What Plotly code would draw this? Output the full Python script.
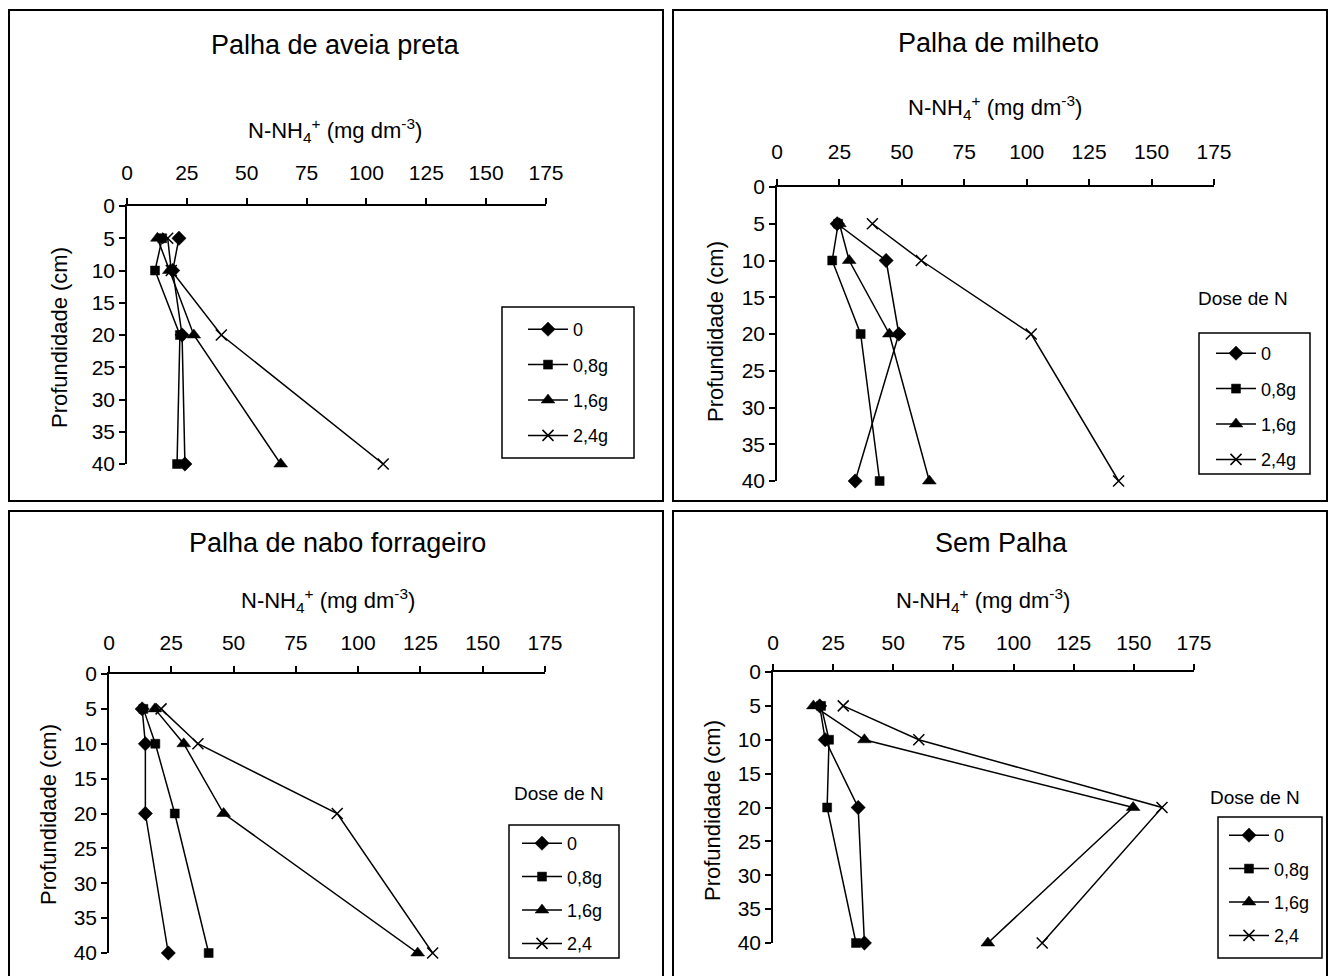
import plotly.graph_objects as go

depth = [5, 10, 20, 40]
dose_names_a = ["0", "0,8g", "1,6g", "2,4g"]
dose_names_b = ["0", "0,8g", "1,6g", "2,4"]
x_ticks = [0, 25, 50, 75, 100, 125, 150, 175]
y_ticks = [0, 5, 10, 15, 20, 25, 30, 35, 40]

titles = ["Palha de aveia preta", "Palha de milheto", "Palha de nabo forrageiro", "Sem Palha"]

aveia_0 = [21.7, 19.1, 23.0, 24.2]
aveia_08 = [14.7, 11.7, 22.1, 20.9]
aveia_16 = [12.7, 17.7, 27.9, 64.2]
aveia_24 = [17.0, 18.5, 39.4, 107.0]

milheto_0 = [24.1, 43.7, 48.8, 31.3]
milheto_08 = [24.5, 22.1, 33.5, 41.1]
milheto_16 = [25.0, 28.9, 45.0, 61.0]
milheto_24 = [38.2, 57.8, 101.8, 136.8]

nabo_0 = [13.3, 14.6, 14.6, 23.8]
nabo_08 = [13.8, 18.6, 26.4, 40.0]
nabo_16 = [18.4, 30.0, 46.0, 123.9]
nabo_24 = [20.9, 35.7, 91.6, 129.9]

sem_0 = [19.4, 21.7, 35.4, 38.0]
sem_08 = [20.0, 23.3, 22.5, 34.5]
sem_16 = [16.8, 38.0, 149.7, 89.3]
sem_24 = [29.2, 60.6, 161.7, 111.9]

panels = [
    [aveia_0, aveia_08, aveia_16, aveia_24],
    [milheto_0, milheto_08, milheto_16, milheto_24],
    [nabo_0, nabo_08, nabo_16, nabo_24],
    [sem_0, sem_08, sem_16, sem_24],
]
legend_names = [dose_names_a, dose_names_a, dose_names_b, dose_names_b]

W, H = 1331, 976
FONT = "Liberation Sans, Arial, sans-serif"

def px(x):
    return x / W

def py(y):
    return 1 - y / H

# layout geometry (pixels)
geo = [
    dict(x0=127, x1=546, y0=206, y1=464, title=(335, 45), atitle=(335, 130), ytitle=(59, 338),
         standoff=10, legend=(502, 307, 634, 458), legpos=(523, 311), gap=9,
         dose=None, border=(9, 10, 663, 501)),
    dict(x0=777, x1=1214, y0=187, y1=481, title=(998, 43), atitle=(995, 108), ytitle=(715, 332),
         standoff=12, legend=(1199, 333, 1310, 474), legpos=(1211, 335), gap=9,
         dose=(1243, 298), border=(673, 10, 1327, 501)),
    dict(x0=109, x1=545, y0=674, y1=953, title=(337, 543), atitle=(328, 600), ytitle=(48, 815),
         standoff=8, legend=(509, 825, 619, 958), legpos=(517, 825), gap=7,
         dose=(559, 793), border=(9, 511, 663, 990)),
    dict(x0=773, x1=1194, y0=672, y1=943, title=(1001, 543), atitle=(983, 600), ytitle=(712, 810),
         standoff=6, legend=(1218, 817, 1322, 958), legpos=(1224, 817), gap=7,
         dose=(1255, 797), border=(673, 511, 1327, 990)),
]

symbols = ["diamond", "square", "triangle-up", "x-thin"]
sizes = [11, 9, 12, 11]

fig = go.Figure()
annotations = []
shapes = []
layout = {}

for i, (series, g) in enumerate(zip(panels, geo)):
    n = "" if i == 0 else str(i + 1)
    xa, ya = "x" + n, "y" + n
    leg = "legend" + n
    for j, vals in enumerate(series):
        fig.add_trace(go.Scatter(
            x=vals, y=depth, xaxis=xa, yaxis=ya, mode="lines+markers",
            name=legend_names[i][j], legend=leg, legendgroup=f"p{i}s{j}",
            line=dict(color="black", width=1.5),
            marker=dict(symbol=symbols[j], size=sizes[j], color="black",
                        line=dict(color="black", width=1.5 if j == 3 else 0.5)),
            cliponaxis=False, showlegend=True,
        ))
    layout["xaxis" + n] = dict(
        domain=[px(g["x0"]), px(g["x1"])], anchor=ya, side="top", range=[0, 175],
        tickvals=x_ticks, ticks="outside", ticklen=6, tickwidth=1.5, tickcolor="black",
        showline=True, linecolor="black", linewidth=1.5, showgrid=False, zeroline=False,
        tickfont=dict(family=FONT, size=21, color="black"), ticklabelstandoff=g["standoff"],
        automargin=False,
    )
    layout["yaxis" + n] = dict(
        domain=[py(g["y1"]), py(g["y0"])], anchor=xa, range=[40, 0],
        tickvals=y_ticks, ticks="outside", ticklen=6, tickwidth=1.5, tickcolor="black",
        showline=True, linecolor="black", linewidth=1.5, showgrid=False, zeroline=False,
        tickfont=dict(family=FONT, size=21, color="black"), automargin=False,
    )
    lb = g["legend"]
    layout[leg] = dict(
        x=px(g["legpos"][0]), y=py(g["legpos"][1]), xanchor="left", yanchor="top",
        borderwidth=0, bgcolor="rgba(0,0,0,0)", itemwidth=40,
        font=dict(family=FONT, size=18, color="black"), tracegroupgap=g["gap"],
    )
    shapes.append(dict(type="rect", xref="paper", yref="paper",
                       x0=px(lb[0]), x1=px(lb[2]), y0=py(lb[3]), y1=py(lb[1]),
                       line=dict(color="black", width=1.5), layer="below"))
    annotations.append(dict(text=titles[i], x=px(g["title"][0]), y=py(g["title"][1]),
                            xref="paper", yref="paper", showarrow=False,
                            xanchor="center", yanchor="middle",
                            font=dict(family=FONT, size=27, color="black")))
    annotations.append(dict(text="N-NH<sub>4</sub><sup>+</sup> (mg dm<sup>-3</sup>)",
                            x=px(g["atitle"][0]), y=py(g["atitle"][1]),
                            xref="paper", yref="paper", showarrow=False,
                            xanchor="center", yanchor="middle",
                            font=dict(family=FONT, size=22, color="black")))
    annotations.append(dict(text="Profundidade (cm)", textangle=-90,
                            x=px(g["ytitle"][0]), y=py(g["ytitle"][1]),
                            xref="paper", yref="paper", showarrow=False,
                            xanchor="center", yanchor="middle",
                            font=dict(family=FONT, size=22, color="black")))
    if g["dose"]:
        annotations.append(dict(text="Dose de N", x=px(g["dose"][0]), y=py(g["dose"][1]),
                                xref="paper", yref="paper", showarrow=False,
                                xanchor="center", yanchor="middle",
                                font=dict(family=FONT, size=19, color="black")))
    b = g["border"]
    shapes.append(dict(type="rect", xref="paper", yref="paper",
                       x0=px(b[0]), x1=px(b[2]), y0=py(b[3]), y1=py(b[1]),
                       line=dict(color="black", width=2)))

fig.update_layout(
    template="none",
    width=W, height=H, margin=dict(l=0, r=0, t=0, b=0, autoexpand=False),
    paper_bgcolor="white", plot_bgcolor="white",
    font=dict(family=FONT, color="black"),
    annotations=annotations, shapes=shapes, **layout,
)

fig.write_html("out.html")
